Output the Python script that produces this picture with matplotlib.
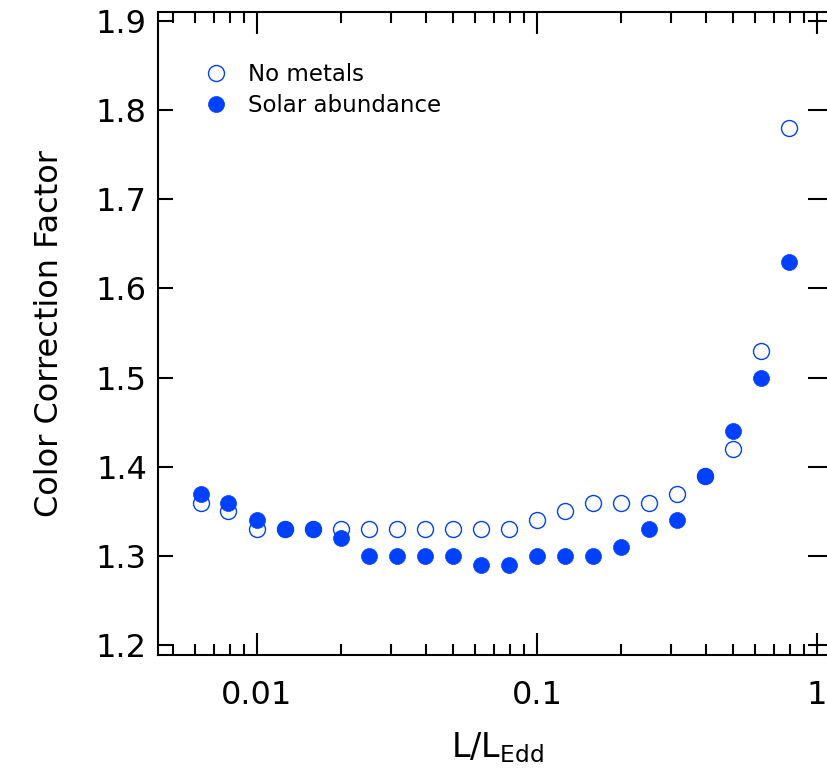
import numpy as np
import matplotlib
matplotlib.use("Agg")
import matplotlib.pyplot as plt
from matplotlib.ticker import FixedLocator, FixedFormatter, NullFormatter

# L/L_Edd values (log spaced, 10^-2.2 ... 10^-0.1)
lum = [0.0063, 0.0079, 0.0100, 0.0126, 0.0158, 0.0200, 0.0251, 0.0316,
       0.0398, 0.0501, 0.0631, 0.0794, 0.1000, 0.1259, 0.1585, 0.1995,
       0.2512, 0.3162, 0.3981, 0.5012, 0.6310, 0.7943]
no_metals = [1.36, 1.35, 1.33, 1.33, 1.33, 1.33, 1.33, 1.33, 1.33, 1.33, 1.33,
             1.33, 1.34, 1.35, 1.36, 1.36, 1.36, 1.37, 1.39, 1.42, 1.53, 1.78]
solar = [1.37, 1.36, 1.34, 1.33, 1.33, 1.32, 1.30, 1.30, 1.30, 1.30, 1.29,
         1.29, 1.30, 1.30, 1.30, 1.31, 1.33, 1.34, 1.39, 1.44, 1.50, 1.63]

blue = "#0040ff"

fig = plt.figure(figsize=(8.27, 7.73), dpi=100)
# right spine sits just past the picture edge, as in the original
ax = fig.add_axes([0.191, 0.1526, 0.820, 0.832])

ax.plot(lum, no_metals, "o", ms=11.5, mfc="white", mec=blue, mew=1.0,
        label="No metals", zorder=2)
ax.plot(lum, solar, "o", ms=11.5, mfc=blue, mec=blue, mew=0.5,
        label="Solar abundance", zorder=3)

ax.set_xscale("log")
ax.set_xlim(0.00443, 1.169)
ax.set_ylim(1.189, 1.910)

ax.xaxis.set_major_locator(FixedLocator([0.01, 0.1, 1]))
ax.xaxis.set_major_formatter(FixedFormatter(["0.01", "0.1", "1"]))
minors = [m * 10.0 ** e for e in (-3, -2, -1) for m in range(2, 10)]
ax.xaxis.set_minor_locator(FixedLocator(minors))
ax.xaxis.set_minor_formatter(NullFormatter())
ax.set_yticks([1.2, 1.3, 1.4, 1.5, 1.6, 1.7, 1.8, 1.9])

for s in ax.spines.values():
    s.set_linewidth(1.5)

ax.tick_params(axis="both", which="both", direction="in", top=True,
               right=True, width=1.5, labelsize=23)
ax.tick_params(axis="x", which="major", length=16, pad=18)
ax.tick_params(axis="x", which="minor", length=8)
ax.tick_params(axis="y", which="major", length=11, pad=8)
ax.tick_params(axis="y", which="major", right=False)

# right-hand y ticks are longer in the original
ax_r = ax.secondary_yaxis("right")
ax_r.set_yticks([1.2, 1.3, 1.4, 1.5, 1.6, 1.7, 1.8, 1.9])
ax_r.tick_params(direction="in", length=20, width=1.5, labelright=False)
ax_r.spines["right"].set_linewidth(1.5)

ax.set_ylabel("Color Correction Factor", fontsize=23, labelpad=22)
ax.set_xlabel(r"L/L$_{\mathregular{Edd}}$", fontsize=24, labelpad=14)

ax.legend(loc="upper left", bbox_to_anchor=(0.052, 0.935), frameon=False,
          fontsize=16.5, handletextpad=0.8, labelspacing=0.35,
          borderaxespad=0.0, handlelength=1.2)

fig.savefig("out.png", dpi=100)
